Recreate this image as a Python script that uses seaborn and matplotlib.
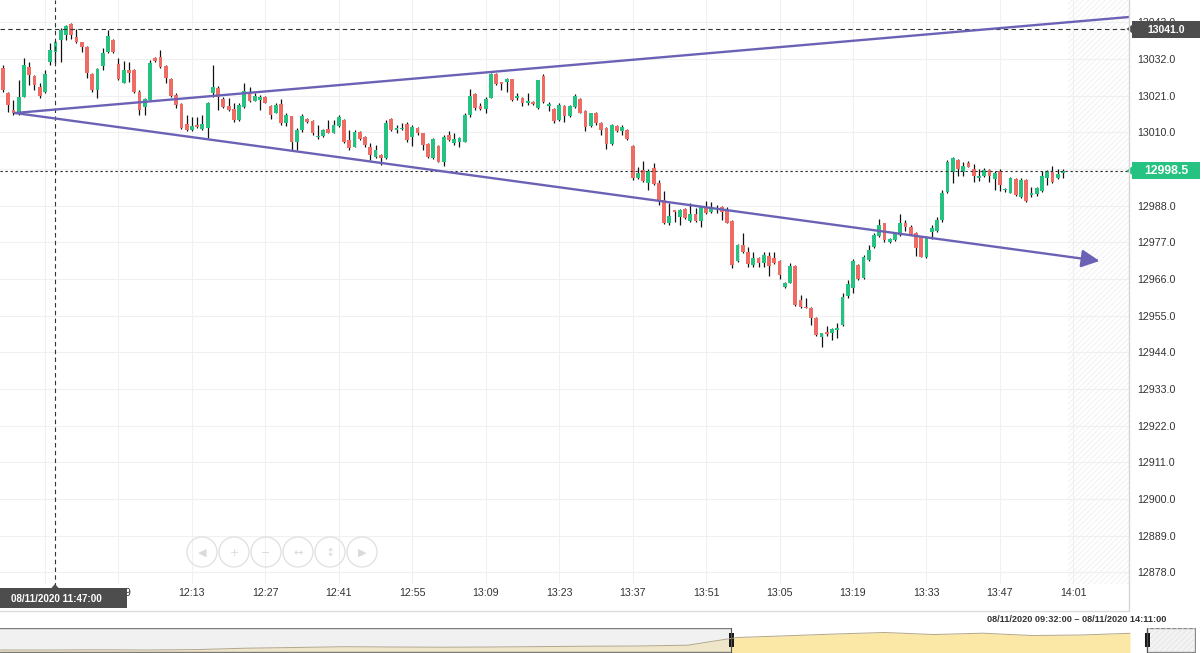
import numpy as np
import pandas as pd
import matplotlib.pyplot as plt
import seaborn as sns
from matplotlib.patches import Rectangle, Polygon, Circle
from matplotlib.lines import Line2D

# 1-minute candles (first candle = 11:37)
opens = [
    13029.3, 13021.8, 13016.7, 13015.8, 13020.6, 13029.6, 13026.9, 13023.6, 13022.1, 13031.1,
    13034.1, 13037.7, 13039.2, 13042.5, 13038.6, 13037.1, 13035.6, 13027.5, 13022.7, 13029.9,
    13034.1, 13037.7, 13030.5, 13024.8, 13028.7, 13028.7, 13022.1, 13017.6, 13019.7, 13032.3,
    13032.6, 13029.9, 13026.0, 13021.2, 13018.5, 13012.5, 13010.7, 13012.2, 13011.0, 13011.3,
    13021.8, 13023.3, 13020.0, 13017.9, 13017.0, 13013.7, 13017.6, 13021.8, 13019.4, 13019.7,
    13020.6, 13017.9, 13015.8, 13018.5, 13012.8, 13014.9, 13007.1, 13010.7, 13014.0, 13013.4,
    13008.6, 13008.9, 13011.0, 13009.8, 13011.9, 13013.7, 13007.7, 13005.6, 13010.1, 13008.6,
    13005.6, 13002.6, 13003.2, 13002.3, 13014.0, 13010.7, 13011.0, 13012.5, 13008.6, 13011.3,
    13009.8, 13006.5, 13002.3, 13005.9, 13001.1, 13009.2, 13006.8, 13007.1, 13007.1, 13015.2,
    13021.5, 13017.9, 13017.0, 13020.3, 13027.5, 13025.1, 13025.1, 13026.0, 13020.3, 13020.3,
    13018.8, 13019.1, 13017.3, 13026.9, 13017.9, 13017.0, 13013.7, 13017.9, 13014.9, 13017.6,
    13020.0, 13016.4, 13011.9, 13015.8, 13012.8, 13011.3, 13006.5, 13011.9, 13010.4, 13010.7,
    13005.9, 12996.3, 12998.7, 12994.8, 12999.3, 12994.8, 12989.7, 12982.8, 12986.7, 12984.6,
    12987.0, 12983.4, 12985.5, 12983.4, 12987.3, 12986.1, 12987.0, 12987.6, 12986.7, 12983.4,
    12971.4, 12976.2, 12974.1, 12970.2, 12972.3, 12970.8, 12972.9, 12972.3, 12971.4, 12963.6,
    12964.8, 12969.9, 12959.7, 12957.6, 12957.3, 12954.3, 12948.6, 12950.1, 12949.8, 12950.7,
    12952.2, 12960.9, 12963.3, 12970.2, 12966.3, 12971.7, 12975.6, 12978.9, 12982.8, 12977.1,
    12977.7, 12979.2, 12982.8, 12981.6, 12979.8, 12978.6, 12972.6, 12980.1, 12980.4, 12983.7,
    12992.1, 12998.1, 13001.7, 12998.1, 13000.8, 12999.0, 12996.3, 12996.9, 12998.7, 12996.0,
    12998.4, 12992.7, 12991.8, 12996.0, 12990.6, 12995.7, 12991.2, 12991.5, 12992.4, 12996.3,
    12998.1, 12996.3, 12997.8,
]
highs = [
    13030.2, 13022.1, 13019.7, 13025.7, 13032.3, 13031.1, 13027.2, 13024.8, 13028.7, 13036.8,
    13037.7, 13041.3, 13042.2, 13042.8, 13041.0, 13037.1, 13035.9, 13027.8, 13029.3, 13035.3,
    13040.7, 13038.0, 13032.3, 13031.4, 13031.1, 13029.0, 13022.7, 13020.3, 13031.7, 13032.6,
    13034.7, 13030.2, 13026.3, 13021.8, 13018.8, 13015.2, 13014.6, 13014.6, 13015.2, 13019.1,
    13030.2, 13023.9, 13020.6, 13020.3, 13018.8, 13018.8, 13024.8, 13023.6, 13021.8, 13021.2,
    13020.9, 13018.2, 13018.8, 13020.0, 13015.8, 13014.9, 13011.3, 13015.5, 13014.3, 13013.7,
    13012.2, 13011.0, 13013.7, 13013.7, 13015.2, 13014.0, 13010.7, 13010.7, 13010.4, 13008.9,
    13006.8, 13006.2, 13003.5, 13013.7, 13014.3, 13012.2, 13012.8, 13013.1, 13012.2, 13011.6,
    13009.8, 13006.8, 13008.3, 13006.2, 13009.2, 13010.4, 13009.8, 13008.6, 13015.8, 13023.0,
    13021.8, 13018.8, 13020.6, 13027.8, 13027.8, 13025.1, 13026.3, 13026.0, 13021.8, 13020.6,
    13021.8, 13019.4, 13025.7, 13027.5, 13019.1, 13017.3, 13018.8, 13018.2, 13018.2, 13021.5,
    13020.3, 13016.7, 13015.8, 13016.1, 13013.1, 13011.6, 13012.5, 13012.2, 13012.2, 13011.0,
    13006.2, 12999.6, 13001.4, 12999.0, 13000.8, 12995.7, 12992.4, 12988.8, 12986.7, 12987.0,
    12987.3, 12988.8, 12987.3, 12987.9, 12989.4, 12989.1, 12988.2, 12987.9, 12987.6, 12983.7,
    12976.5, 12979.8, 12975.6, 12974.1, 12972.6, 12974.1, 12974.1, 12974.1, 12971.7, 12965.1,
    12970.8, 12970.2, 12961.2, 12960.3, 12957.6, 12954.6, 12949.8, 12951.9, 12951.3, 12952.8,
    12961.8, 12965.7, 12972.0, 12970.5, 12973.2, 12976.2, 12979.8, 12984.0, 12982.8, 12978.3,
    12980.1, 12985.5, 12983.7, 12982.2, 12980.1, 12978.9, 12978.9, 12982.2, 12984.6, 12992.7,
    13001.7, 13002.6, 13002.0, 13001.1, 13001.4, 13000.5, 12999.0, 12999.3, 12999.0, 12998.4,
    12999.0, 12993.3, 12996.6, 12996.3, 12996.3, 12996.0, 12993.6, 12993.6, 12998.4, 12998.7,
    12999.9, 12999.0, 12998.9,
]
lows = [
    13022.1, 13016.1, 13015.2, 13015.2, 13020.6, 13024.2, 13022.7, 13020.3, 13021.8, 13030.2,
    13030.8, 13031.1, 13037.7, 13038.0, 13036.8, 13034.1, 13026.3, 13022.1, 13020.3, 13028.7,
    13033.8, 13033.8, 13025.7, 13024.8, 13025.1, 13021.8, 13015.2, 13015.2, 13019.7, 13031.1,
    13029.3, 13024.8, 13020.6, 13017.3, 13011.0, 13010.4, 13010.4, 13011.3, 13010.7, 13008.3,
    13020.6, 13016.7, 13017.3, 13016.4, 13013.1, 13013.4, 13017.3, 13019.1, 13019.4, 13016.7,
    13018.8, 13014.0, 13015.8, 13012.2, 13011.9, 13004.7, 13004.7, 13010.1, 13012.8, 13009.2,
    13008.0, 13008.6, 13009.8, 13009.8, 13011.6, 13006.8, 13004.7, 13005.6, 13007.7, 13005.6,
    13001.7, 13002.3, 13000.2, 13002.0, 13010.4, 13009.8, 13010.7, 13007.1, 13005.9, 13009.2,
    13004.7, 13002.3, 13002.0, 13001.1, 12999.9, 13007.4, 13006.2, 13005.6, 13007.1, 13014.6,
    13016.7, 13016.7, 13015.8, 13020.3, 13024.2, 13022.7, 13022.1, 13019.4, 13019.7, 13017.9,
    13018.2, 13018.2, 13017.0, 13018.8, 13016.4, 13012.8, 13013.4, 13013.1, 13014.6, 13017.3,
    13015.8, 13010.4, 13011.6, 13012.2, 13009.2, 13005.0, 13006.2, 13010.1, 13009.2, 13007.7,
    12995.7, 12996.0, 12995.1, 12992.7, 12994.2, 12988.2, 12982.5, 12982.2, 12983.1, 12982.2,
    12984.0, 12983.1, 12983.1, 12981.6, 12985.5, 12985.8, 12985.8, 12983.7, 12982.8, 12969.3,
    12971.1, 12973.8, 12969.6, 12969.6, 12969.6, 12969.6, 12966.9, 12970.5, 12966.0, 12963.3,
    12964.8, 12957.9, 12957.3, 12957.3, 12952.2, 12948.9, 12945.6, 12948.9, 12947.7, 12948.3,
    12951.9, 12960.3, 12961.8, 12965.7, 12966.0, 12971.4, 12975.3, 12978.6, 12977.1, 12976.8,
    12977.4, 12978.9, 12980.4, 12979.2, 12972.9, 12972.6, 12972.3, 12978.0, 12980.1, 12983.1,
    12991.8, 12994.8, 12996.9, 12996.9, 12999.6, 12995.1, 12995.4, 12996.6, 12995.1, 12992.7,
    12992.4, 12992.1, 12991.8, 12990.9, 12990.3, 12989.1, 12990.6, 12990.9, 12992.1, 12994.2,
    12994.8, 12996.0, 12996.3,
]
closes = [
    13022.7, 13018.2, 13015.8, 13020.6, 13030.2, 13027.2, 13024.2, 13020.9, 13027.5, 13034.7,
    13037.1, 13040.7, 13041.9, 13039.2, 13037.1, 13035.6, 13027.8, 13022.7, 13029.0, 13033.8,
    13038.9, 13034.1, 13026.0, 13028.7, 13027.8, 13022.1, 13016.7, 13020.0, 13030.8, 13031.4,
    13029.6, 13026.3, 13020.9, 13018.2, 13011.3, 13010.7, 13011.9, 13011.6, 13012.5, 13018.8,
    13023.6, 13020.6, 13017.6, 13016.7, 13013.7, 13018.2, 13022.4, 13019.4, 13020.9, 13020.6,
    13018.8, 13015.2, 13018.2, 13012.8, 13015.2, 13007.1, 13010.7, 13014.9, 13013.1, 13009.8,
    13008.9, 13010.7, 13009.8, 13012.2, 13014.6, 13007.1, 13005.3, 13010.1, 13008.0, 13006.2,
    13003.2, 13004.7, 13002.3, 13012.8, 13010.7, 13011.3, 13011.3, 13007.7, 13011.6, 13009.8,
    13006.2, 13002.6, 13008.0, 13001.1, 13008.6, 13007.7, 13008.0, 13008.3, 13015.2, 13020.9,
    13017.3, 13017.0, 13020.0, 13027.5, 13024.5, 13024.5, 13026.0, 13019.7, 13020.9, 13018.8,
    13019.4, 13018.5, 13025.7, 13019.1, 13018.5, 13013.4, 13018.2, 13014.9, 13017.9, 13020.9,
    13015.8, 13011.6, 13015.8, 13012.8, 13010.7, 13006.5, 13012.2, 13010.4, 13011.6, 13008.0,
    12996.3, 12997.8, 12995.4, 12998.4, 12994.5, 12989.7, 12982.8, 12984.9, 12986.1, 12986.7,
    12984.3, 12985.5, 12983.4, 12987.6, 12985.8, 12987.0, 12987.3, 12986.1, 12982.8, 12970.2,
    12976.2, 12974.1, 12970.5, 12972.3, 12970.8, 12973.2, 12969.9, 12970.8, 12967.2, 12964.8,
    12969.9, 12958.2, 12957.6, 12957.3, 12954.3, 12949.2, 12949.8, 12949.5, 12951.0, 12951.3,
    12960.6, 12964.5, 12971.4, 12966.0, 12972.6, 12974.7, 12979.2, 12982.2, 12977.7, 12978.0,
    12979.8, 12982.8, 12981.6, 12979.5, 12975.3, 12972.6, 12978.6, 12981.3, 12983.7, 12991.8,
    13001.1, 13002.3, 12999.0, 12999.9, 12999.6, 12996.9, 12996.9, 12998.7, 12996.9, 12997.8,
    12994.2, 12993.0, 12996.3, 12991.2, 12995.7, 12989.4, 12991.8, 12993.3, 12996.9, 12998.4,
    12995.1, 12997.5, 12998.5,
]

x_ticks = list(range(8, 205, 14))
x_labels = ['', '11:59', '12:13', '12:27', '12:41', '12:55', '13:09', '13:23',
            '13:37', '13:51', '13:05', '13:19', '13:33', '13:47', '14:01']
y_ticks = [12878 + 11 * k for k in range(16)]

last_price = 12998.5
cross_price = 13041.0
cross_idx = 10
cross_text = '08/11/2020 11:47:00'
range_text = '08/11/2020 09:32:00 \u2013 08/11/2020 14:11:00'

# trend lines drawn on the chart (candle index, price)
upper_x, upper_y = [2.3, 214.6], [13015.8, 13044.6]
lower_x, lower_y = [2.3, 209.0], [13015.8, 12971.4]

# navigator mini series (height of the area) and selected window
nav_level = [3.0, 3.0, 3.2, 3.0, 3.4, 4.8, 5.5, 6.3, 6.0, 5.8, 6.0, 6.4,
             6.8, 7.0, 7.8, 15.5, 17.2, 19.0, 20.5, 18.5, 19.8, 17.5, 18.0, 19.7]
nav_sel = (14.88, 23.35)

GREEN = '#26c281'
RED = '#ef6c64'
PURPLE = '#6b62b6'

sns.set_style('white')
plt.rcParams['font.family'] = ['Liberation Sans', 'DejaVu Sans']
plt.rcParams['hatch.linewidth'] = 0.6

W, H = 1202, 653
fig = plt.figure(figsize=(W / 100, H / 100), dpi=100)


def px_rect(x0, y0, x1, y1):
    return [x0 / W, 1 - y1 / H, (x1 - x0) / W, (y1 - y0) / H]


df = pd.DataFrame({'open': opens, 'high': highs, 'low': lows, 'close': closes})
df['idx'] = np.arange(len(df))
df['up'] = df['close'] >= df['open']

ax = fig.add_axes(px_rect(0, 0, 1129, 584))
ax.set_xlim(-0.57, 214.6)
ax.set_ylim(12874.5, 13049.7)
for s in ax.spines.values():
    s.set_visible(False)

ax.set_xticks(x_ticks)
ax.set_xticklabels(x_labels)
ax.set_yticks(y_ticks)
ax.set_yticklabels([f'{v:.1f}' for v in y_ticks])
ax.yaxis.tick_right()
ax.tick_params(axis='x', length=0, pad=3, labelsize=7.7, labelcolor='#333333')
ax.tick_params(axis='y', length=0, pad=6, labelsize=7.7, labelcolor='#333333')
ax.grid(True, color='#f0f0f0', lw=0.8)
ax.set_axisbelow(True)

# future zone
ax.add_patch(Rectangle((202.9, 12874.5), 214.6 - 202.9, 13049.7 - 12874.5,
                       facecolor='none', edgecolor='#efefef', hatch='//////', lw=0, zorder=1))

# candles
ax.vlines(df['idx'], df['low'], df['high'], color='#111111', lw=0.9, zorder=2)
bottoms = np.minimum(df['open'], df['close'])
heights = np.maximum((df['close'] - df['open']).abs(), 0.35)
ax.bar(df['idx'], heights, bottom=bottoms, width=0.72,
       color=np.where(df['up'], GREEN, RED), lw=0, zorder=3)

# crosshair and price lines
ax.axhline(cross_price, color='#333333', lw=0.8, ls=(0, (4, 3)), zorder=4)
ax.axhline(last_price, color='#222222', lw=0.8, ls=(0, (2, 2.5)), zorder=4)
ax.axvline(cross_idx, ymin=-0.005, color='#333333', lw=0.8, ls=(0, (4, 3)), zorder=4, clip_on=False)

# trend lines
sns.lineplot(x=upper_x, y=upper_y, ax=ax, color=PURPLE, lw=1.7, zorder=5)
ax.annotate('', xy=(lower_x[1], lower_y[1]), xytext=(lower_x[0], lower_y[0]),
            arrowprops=dict(arrowstyle='-|>,head_length=0.55,head_width=0.27',
                            color=PURPLE, lw=1.7, mutation_scale=20,
                            shrinkA=0, shrinkB=0), zorder=5)

# navigator
nav = fig.add_axes(px_rect(0, 628, 1196, 653))
nav_x = np.arange(len(nav_level))
nav_right = (len(nav_level) - 1) * 1196 / 1130
nav.set_xlim(0, nav_right)
nav.set_ylim(0, 25)
nav.axis('off')
nav.fill_between(nav_x, 0, nav_level, color='#fce8a6', lw=0)
sns.lineplot(x=nav_x, y=nav_level, ax=nav, color='#b3a78c', lw=0.7)
nav.add_patch(Rectangle((0, 0), nav_sel[0], 25, facecolor='#e6e6e6', alpha=0.55, lw=0))
nav.plot([0, nav_sel[0]], [24.6, 24.6], color='#7a7a7a', lw=1.0)
nav.plot([0, nav_sel[0]], [0.6, 0.6], color='#7a7a7a', lw=1.0)
nav.add_patch(Rectangle((nav_sel[1], 0.6), nav_right - nav_sel[1] - 0.02, 24,
                        facecolor='#f3f3f3', edgecolor='#8a8a8a', lw=1.0))
nav.add_patch(Rectangle((nav_sel[1], 0.6), nav_right - nav_sel[1] - 0.02, 24,
                        facecolor='none', edgecolor='#e4e4e4', hatch='//////', lw=0))
for sx in nav_sel:
    nav.plot([sx, sx], [0, 25], color='#555555', lw=0.8)
    nav.add_patch(Rectangle((sx - 0.05, 6), 0.1, 14, facecolor='#1a1a1a', lw=0))

# overlay in pixel coordinates
ov = fig.add_axes([0, 0, 1, 1])
ov.set_xlim(0, W)
ov.set_ylim(H, 0)
ov.axis('off')

ov.add_line(Line2D([1129, 1129], [0, 611], color='#d6d6d6', lw=1))
ov.add_line(Line2D([0, 1129], [611, 611], color='#dcdcdc', lw=1))


def price_px(p):
    return H - ax.transData.transform((0, p))[1]


for price, fc, fs in [(cross_price, '#4d4d4d', 7.5), (last_price, GREEN, 8.8)]:
    yc = price_px(price)
    ov.add_patch(Rectangle((1132, yc - 8.5), 68, 17, facecolor=fc, lw=0))
    ov.add_patch(Polygon([(1126.5, yc), (1132.5, yc - 4.5), (1132.5, yc + 4.5)], facecolor=fc, lw=0))
    ov.text(1166, yc + 0.5, f'{price:.1f}', color='white', fontsize=fs, fontweight='bold',
            ha='center', va='center')

# crosshair time label
ov.add_patch(Rectangle((0, 588), 127, 20, facecolor='#4d4d4d', lw=0))
ov.add_patch(Polygon([(51, 588.5), (55, 584), (59, 588.5)], facecolor='#4d4d4d', lw=0))
ov.text(11, 598.5, cross_text, color='white', fontsize=7.1, fontweight='bold', ha='left', va='center')

ov.text(1166, 619.5, range_text, color='#333333', fontsize=6.6, fontweight='bold',
        ha='right', va='center')

# zoom buttons
btn_x = [202, 234, 266, 298, 330, 362]
btn_glyph = ['\u25c0', '+', '\u2212', '\u2194', '\u2195', '\u25b6']
for bx, g in zip(btn_x, btn_glyph):
    ov.add_patch(Circle((bx, 552), 15, facecolor='none', edgecolor='#e2e2e2', lw=1))
    ov.text(bx, 553, g, color='#dadada', fontsize=8, ha='center', va='center',
            family=['DejaVu Sans'])

fig.savefig('out.png', dpi=100)
